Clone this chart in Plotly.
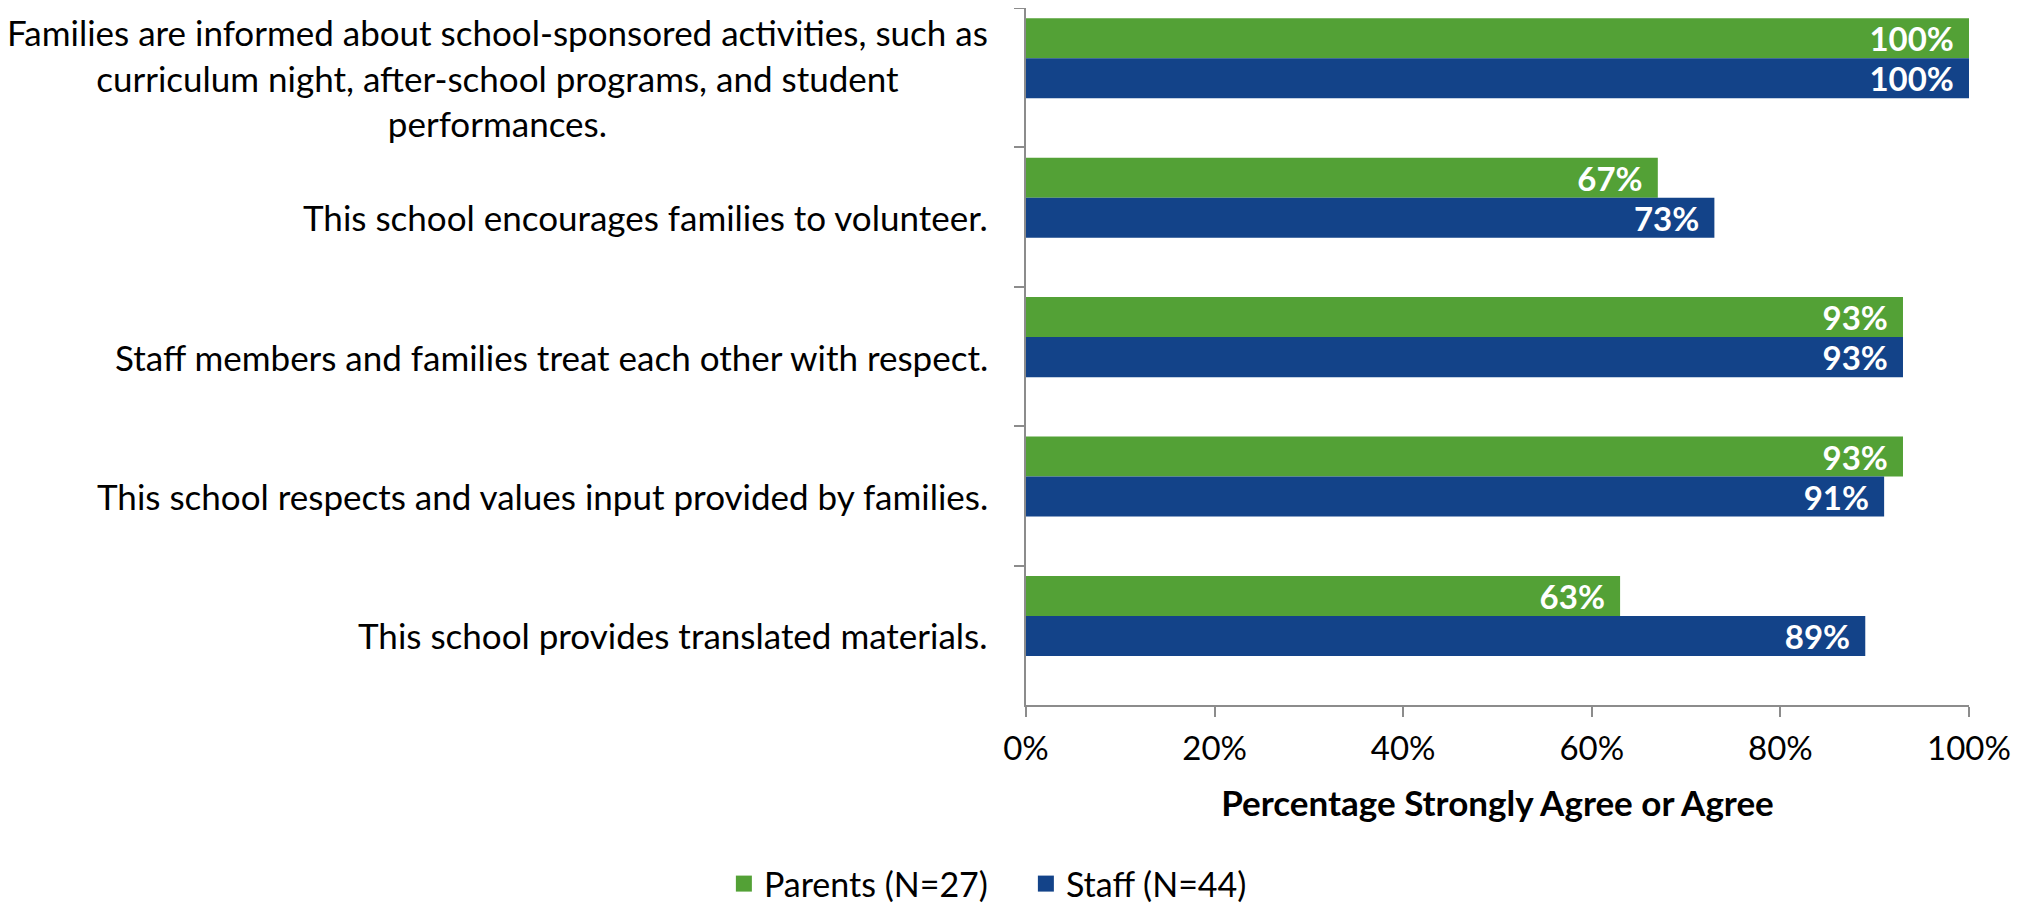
import plotly.graph_objects as go

categories = [
    "Families are informed about school-sponsored activities, such as<br>curriculum night, after-school programs, and student<br>performances.",
    "This school encourages families to volunteer.",
    "Staff members and families treat each other with respect.",
    "This school respects and values input provided by families.",
    "This school provides translated materials.",
]
parents = [1.00, 0.67, 0.93, 0.93, 0.63]
staff = [1.00, 0.73, 0.93, 0.91, 0.89]
series_names = ["Parents (N=27)", "Staff (N=44)"]
x_ticks = [0, 0.2, 0.4, 0.6, 0.8, 1.0]

GREEN = "#53A136"
BLUE = "#134389"
AXIS = "#8c8c8c"
FONT = "Lato"
FS_CAT = 35
FS_TICK = 33
FS_DATA = 33
FS_TITLE = 35
FS_LEG = 34
# page body has an 8px margin, so the figure is 16px smaller than the window
W, H = 2020, 900
ML, MR, MT, MB = 1018, 59, 0, 203

fig = go.Figure()
for vals, name, color, off in [(parents, series_names[0], GREEN, -0.426),
                                (staff, series_names[1], BLUE, -0.139)]:
    fig.add_trace(go.Bar(
        y=categories, x=vals, name=name, orientation="h",
        marker=dict(color=color, line=dict(width=0)),
        width=0.287, offset=off,
        texttemplate="%{x:.0%}\u00a0\u2009",
        textposition="inside", insidetextanchor="end",
        textfont=dict(color="white", family=FONT, size=FS_DATA, weight="bold"),
        hoverinfo="skip", showlegend=False,
    ))

# legend entries with larger square swatches
for name, color in [(series_names[0], GREEN), (series_names[1], BLUE)]:
    fig.add_trace(go.Scatter(
        x=[None], y=[None], mode="markers", name=name,
        marker=dict(symbol="square", size=16, color=color),
        showlegend=True, hoverinfo="skip",
    ))

for i, c in enumerate(categories):
    fig.add_annotation(
        x=-36 / (W - ML - MR), xref="paper", y=c, yref="y",
        text=c, showarrow=False, xanchor="right", yanchor="middle",
        align="center", font=dict(family=FONT, size=FS_CAT, color="black"),
    )

fig.update_layout(
    width=W, height=H,
    margin=dict(l=ML, r=MR, t=MT, b=MB, autoexpand=False),
    barmode="overlay",
    plot_bgcolor="white", paper_bgcolor="white",
    font=dict(family=FONT, size=FS_TICK, color="black"),
    uniformtext=dict(minsize=FS_DATA, mode="show"),
    showlegend=True,
    legend=dict(orientation="h", xref="container", yref="container",
                x=0.5039, xanchor="center", y=24 / H, yanchor="middle",
                font=dict(family=FONT, size=FS_LEG, color="black"),
                traceorder="normal", itemwidth=30,
                entrywidth=257, entrywidthmode="pixels"),
)
fig.update_xaxes(
    range=[0, 1], tickvals=x_ticks, tickformat=".0%",
    showgrid=False, zeroline=False,
    showline=True, linecolor=AXIS, linewidth=2,
    ticks="outside", ticklen=10, tickcolor=AXIS, tickwidth=2,
    ticklabelstandoff=3,
    tickfont=dict(family=FONT, size=FS_TICK, color="black"),
    title=dict(text="<b>Percentage Strongly Agree or Agree</b>", standoff=26,
               font=dict(family=FONT, size=FS_TITLE, color="black")),
    automargin=False,
)
fig.update_yaxes(
    range=[4.5, -0.5], showgrid=False, zeroline=False,
    showline=True, linecolor=AXIS, linewidth=2,
    ticks="outside", ticklen=10, tickcolor=AXIS, tickwidth=2,
    tickson="boundaries", showticklabels=False, automargin=False,
)

fig.write_html("out.html")
